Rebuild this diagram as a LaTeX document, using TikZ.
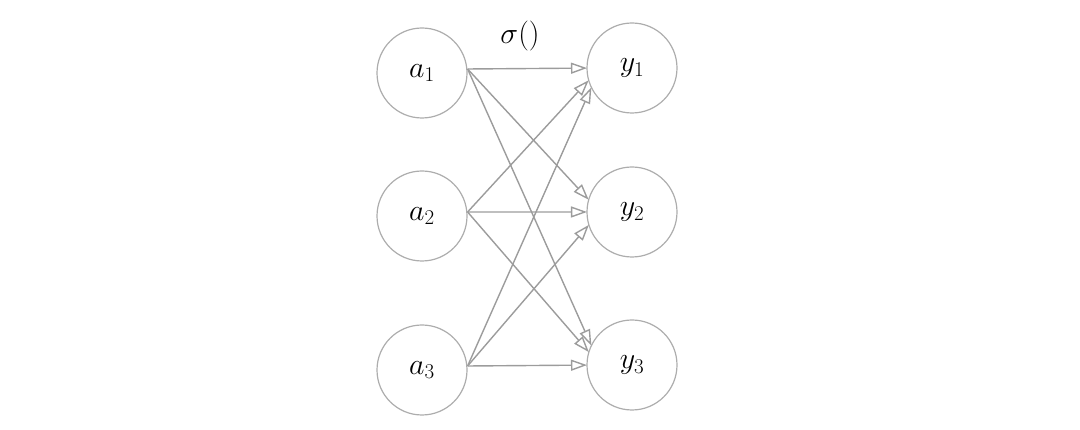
\documentclass[tikz,border=0pt]{standalone}
\usepackage{fix-cm}
\usetikzlibrary{arrows.meta,calc,intersections}
\definecolor{ringgray}{HTML}{ADADAD}
\definecolor{edgegray}{HTML}{9C9C9C}
\tikzset{
  neuron/.style={circle,draw=ringgray,line width=1.2pt,minimum size=90pt,inner sep=0pt,
    font=\fontsize{30}{36}\selectfont},
  arr/.style={draw=edgegray,line width=1.4pt,-{Triangle[open,length=16pt,width=11pt]}}
}
\begin{document}
\begin{tikzpicture}[x=1pt,y=1pt]
\useasboundingbox (0,0) rectangle (1080,430);
\node[neuron] (a1) at (422,357) {$a_1$};
\node[neuron] (a2) at (422,214) {$a_2$};
\node[neuron] (a3) at (422,60) {$a_3$};
\node[neuron] (y1) at (632,362) {$y_1$};
\node[neuron] (y2) at (632,218) {$y_2$};
\node[neuron] (y3) at (632,65) {$y_3$};
\node[font=\fontsize{30}{36}\selectfont] (sig) at (520,394) {$\sigma()$};
\foreach \j in {1,2,3}{
  \path[name path global=cy\j] (y\j.center) circle (45pt);
}
\foreach \i in {1,2,3}{
  \coordinate (s\i) at ($(a\i.east)+(0,4pt)$);
}
\foreach \i in {1,2,3}{
  \foreach \j in {1,2,3}{
    \path[name path=tmp] (s\i) -- ($(y\j.center)+(-32pt,0)$);
    \path[name intersections={of=tmp and cy\j, by=e}];
    \draw[arr] (s\i) -- (e);
  }
}
\end{tikzpicture}
\end{document}
